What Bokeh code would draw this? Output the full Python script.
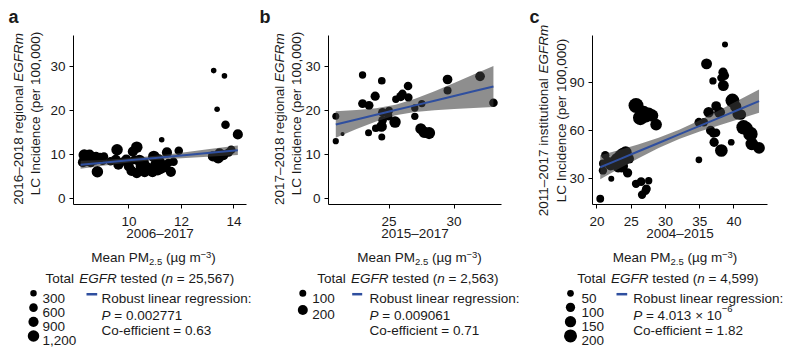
import math
from bokeh.plotting import figure
from bokeh.models import Range1d, FixedTicker
from bokeh.layouts import row, column
from bokeh.embed import file_html
from bokeh.resources import INLINE
from bokeh.core.properties import value

# ---------------- data ----------------
# panel a: regional, PM2.5 2006-2017
a_pm = [8.25, 8.30, 8.35, 8.45, 8.50, 8.55, 8.60, 8.70, 8.75, 8.80, 8.90, 9.00, 9.05,
        9.30, 9.50, 9.55, 9.60, 9.75, 9.90, 10.00, 10.10, 10.15, 10.20, 10.30, 10.30, 10.40, 10.45,
        10.60, 10.60, 10.70, 10.80, 10.90, 10.95, 11.00, 11.10, 11.15, 11.20, 11.20, 11.25, 11.35,
        11.45, 11.50, 11.60, 11.70, 11.90,
        13.20, 13.23, 13.36, 13.40, 13.45, 13.60, 13.64, 13.68, 13.80, 13.90, 14.15]
a_inc = [8.2, 9.8, 9.2, 8.6, 9.9, 8.0, 9.4, 8.9, 9.6, 6.0, 9.2, 8.5, 9.5,
         8.4, 8.7, 11.0, 7.6, 8.3, 8.8, 7.2, 6.2, 10.6, 8.7, 11.6, 5.7, 8.6, 7.3,
         5.9, 8.2, 7.0, 6.5, 5.9, 9.5, 7.6, 6.3, 9.0, 8.1, 6.6, 13.3, 7.0,
         10.4, 8.0, 6.0, 8.3, 10.8,
         9.5, 29.0, 20.2, 9.2, 10.2, 9.8, 27.8, 16.7, 10.4, 11.0, 14.5]
a_n = [900, 1200, 900, 1200, 900, 600, 900, 1200, 600, 1200, 900, 600, 600,
       600, 900, 1200, 900, 600, 900, 900, 900, 900, 600, 1200, 900, 1200, 900,
       900, 600, 900, 900, 900, 1200, 900, 900, 600, 900, 900, 200, 900,
       900, 600, 900, 600, 600,
       900, 200, 200, 1200, 900, 900, 200, 600, 600, 600, 900]
a_fit_x = [8.16, 9.0, 10.0, 11.0, 12.0, 13.0, 14.15]
a_fit_y = [7.59, 8.05, 8.61, 9.16, 9.71, 10.27, 10.90]
a_fit_lo = [6.69, 7.40, 8.11, 8.66, 9.06, 9.42, 9.80]
a_fit_hi = [8.49, 8.70, 9.11, 9.66, 10.36, 11.12, 12.00]
a_xticks = [10, 12, 14]
a_yticks = [0, 10, 20, 30]
a_legend = [300, 600, 900, 1200]
a_legend_lbl = ["300", "600", "900", "1,200"]

# panel b: regional, PM2.5 2015-2017
b_pm = [20.90, 20.90, 21.42, 22.96, 22.96, 23.46, 23.42, 23.93, 23.98, 24.44, 24.44, 24.50,
        24.42, 24.50, 25.00, 24.95, 25.46, 25.52, 25.90, 26.03, 26.46, 26.49, 26.98, 26.98,
        27.52, 27.44, 27.70, 28.08, 29.50, 29.50, 32.00, 33.03]
b_inc = [18.6, 12.96, 14.6, 28.0, 21.5, 21.1, 14.9, 23.2, 15.9, 26.7, 13.9, 19.5,
         16.3, 17.7, 19.9, 18.6, 17.3, 22.5, 23.1, 23.7, 25.5, 22.9, 20.5, 18.6,
         21.5, 15.8, 15.0, 14.8, 26.98, 24.5, 27.7, 21.7]
b_n = [100, 80, 35, 110, 160, 160, 100, 170, 120, 120, 100, 160,
       230, 150, 120, 130, 260, 110, 170, 150, 150, 140, 110, 110,
       110, 240, 260, 290, 190, 130, 190, 150]
b_fit_x = [20.90, 22.5, 24.0, 25.5, 27.0, 28.5, 30.0, 31.5, 33.03]
b_fit_y = [16.75, 17.89, 18.96, 20.03, 21.10, 22.17, 23.24, 24.31, 25.40]
b_fit_lo = [13.75, 15.73, 17.46, 18.83, 19.60, 20.01, 20.30, 20.53, 20.74]
b_fit_hi = [19.75, 20.05, 20.46, 21.23, 22.60, 24.33, 26.18, 28.09, 30.06]
b_xticks = [25, 30]
b_yticks = [0, 10, 20, 30]
b_legend = [100, 200]
b_legend_lbl = ["100", "200"]

# panel c: institutional, PM2.5 2004-2015
c_pm = [20.49, 20.88, 20.88, 21.22, 22.10, 21.60, 22.00, 22.50, 22.90, 23.20, 23.40, 23.60, 23.80,
        24.00, 24.20, 24.40, 24.70, 23.10, 22.70,
        24.48, 25.71, 26.45, 26.59, 27.22, 27.56, 27.10,
        25.71, 26.34, 26.83, 27.56, 28.06, 28.64, 27.20,
        38.69, 36.00, 36.93, 38.40, 38.64, 38.16, 38.45, 39.77, 40.25, 37.40, 36.30, 37.90, 40.60, 41.00,
        34.88, 35.61, 36.59, 36.99, 37.40, 41.40, 41.80, 42.40, 42.60, 43.66, 39.60, 37.10, 38.16, 34.88]
c_inc = [17.6, 35.2, 39.5, 44.7, 30.0, 40.5, 38.5, 41.0, 42.5, 40.0, 44.5, 38.0, 45.5,
         42.0, 46.5, 43.0, 42.5, 37.5, 39.5,
         33.7, 26.9, 28.3, 20.1, 23.8, 28.8, 22.5,
         75.5, 67.9, 71.3, 70.3, 69.3, 63.7, 68.5,
         113.4, 101.4, 90.8, 96.2, 94.1, 92.7, 87.9, 78.6, 74.9, 75.2, 71.3, 71.3, 70.3, 69.9,
         65.1, 65.1, 60.0, 58.3, 58.6, 62.0, 61.4, 57.9, 51.7, 49.2, 52.7, 52.7, 47.6, 41.8]
c_n = [70, 80, 70, 80, 40, 110, 130, 120, 150, 170, 150, 200, 180,
       160, 170, 140, 110, 150, 100,
       100, 80, 90, 80, 90, 60, 80,
       270, 260, 200, 190, 180, 160, 150,
       40, 140, 60, 100, 90, 80, 140, 230, 150, 110, 130, 140, 150, 130,
       90, 80, 100, 90, 80, 250, 200, 250, 190, 160, 50, 100, 190, 50]
c_fit_x = [20.49, 23.0, 26.0, 29.0, 32.0, 35.0, 38.0, 41.0, 43.66]
c_fit_y = [37.20, 41.64, 46.95, 52.26, 57.57, 62.88, 68.19, 73.50, 78.21]
c_fit_lo = [29.70, 35.74, 42.65, 49.06, 54.67, 59.38, 63.49, 67.50, 71.01]
c_fit_hi = [44.70, 47.54, 51.25, 55.46, 60.47, 66.38, 72.89, 79.50, 85.41]
c_xticks = [20, 25, 30, 35, 40]
c_yticks = [30, 60, 90]
c_legend = [50, 100, 150, 200]
c_legend_lbl = ["50", "100", "150", "200"]

# ---------------- style ----------------
FONT = "Liberation Sans"
TXT = "#1a1a1a"
BLUE = "#2f4f9f"
RIBBON = "#3c3c3c"
FSZ = 13.5
SUB = 9.5
TOP_H = 246
TOTAL_H = 356
BOT_H = TOTAL_H - TOP_H
FRAME_TOP, FRAME_BOT = 35, 204
BOT_SHIFT = -4.0

HW = {}
for chars, w in [("ijl", 222), (" ,.:Ift", 278), ("()-r", 333), ("cksvxyzJ", 500),
                 ("0123456789abdeghnopquµ–L", 556), ("=×−+", 584), ("FTZ", 611),
                 ("ABEKPSVXY", 667), ("CDHNRUw", 722), ("GOQ", 778), ("Mm", 833), ("W", 944)]:
    for ch in chars:
        HW[ch] = w


def tw(s, size):
    return sum(HW.get(ch, 556) for ch in s) * size / 1000.0


def size_a(n):
    return 1.5 + 0.2887 * math.sqrt(n)


def size_b(n):
    return -0.24 + 0.724 * math.sqrt(n)


def size_c(n):
    return 0.4 + 0.89 * math.sqrt(n)


def panel(left, w, frame_l, frame_r, xr, yr, xt, yt, xlab, xs, ys, ns, dfun, fx, fy, flo, fhi,
          letter, letter_x, ylines):
    p = figure(width=w, height=TOP_H, x_range=Range1d(*xr), y_range=Range1d(*yr),
               output_backend="svg", toolbar_location=None, title=None,
               min_border_left=frame_l - left, min_border_right=left + w - frame_r,
               min_border_top=FRAME_TOP, min_border_bottom=TOP_H - FRAME_BOT)
    p.outline_line_color = None
    p.xgrid.visible = False
    p.ygrid.visible = False
    p.scatter(x=xs, y=ys, size=[dfun(n) for n in ns], marker="circle",
              fill_color="black", line_color=None)
    p.varea(x=fx, y1=flo, y2=fhi, fill_color=RIBBON, fill_alpha=0.58)
    p.line(x=fx, y=fy, line_color=BLUE, line_width=2)
    for ax in (p.xaxis[0], p.yaxis[0]):
        ax.axis_line_color = "black"
        ax.axis_line_width = 1
        ax.major_tick_line_color = "black"
        ax.major_tick_out = 4
        ax.major_tick_in = 0
        ax.minor_tick_line_color = None
        ax.major_label_text_font = FONT
        ax.major_label_text_font_size = f"{FSZ}px"
        ax.major_label_text_color = TXT
    p.xaxis.ticker = FixedTicker(ticks=xt)
    p.yaxis.ticker = FixedTicker(ticks=yt)
    p.xaxis.axis_label = xlab
    p.xaxis.axis_label_text_font = FONT
    p.xaxis.axis_label_text_font_size = f"{FSZ}px"
    p.xaxis.axis_label_text_font_style = "normal"
    p.xaxis.axis_label_text_color = TXT
    p.xaxis.major_label_standoff = 8
    p.xaxis.axis_label_standoff = -3
    p.yaxis.major_label_standoff = 4

    # page pixel -> data coordinates of this panel (for texts placed in the margins)
    def to_data(px, py):
        x = xr[0] + (px - frame_l) / (frame_r - frame_l) * (xr[1] - xr[0])
        y = yr[0] + (FRAME_BOT - py) / (FRAME_BOT - FRAME_TOP) * (yr[1] - yr[0])
        return x, y

    def lab(px, py, text, size=FSZ, style="normal", align="left", baseline="alphabetic", angle=0.0):
        x, y = to_data(px, py)
        p.text(x=[x], y=[y], text=[text], angle=angle, text_font=value(FONT),
               text_font_size=f"{size}px", text_font_style=style, text_align=align,
               text_baseline=baseline, text_color=TXT, level="overlay")

    lab(letter_x, 16.5, letter, size=18, style="bold")
    for cx, cy, p1, p2 in ylines:
        if p2:
            tot = tw(p1 + " " + p2, FSZ)
            bottom = cy + tot / 2
            lab(cx, bottom, p1, align="left", baseline="middle", angle=math.pi / 2)
            lab(cx, bottom - tw(p1 + " ", FSZ), p2, style="italic", align="left",
                baseline="middle", angle=math.pi / 2)
        else:
            lab(cx, cy, p1, align="center", baseline="middle", angle=math.pi / 2)
    return p


pa = panel(0, 258, 73, 246, (7.89, 14.48), (-1.43, 36.98), a_xticks, a_yticks, "2006–2017",
           a_pm, a_inc, a_n, size_a, a_fit_x, a_fit_y, a_fit_lo, a_fit_hi,
           "a", 8, [(18.3, 118.3, "2016–2018 regional", "EGFRm"),
                    (35.0, 113.0, "LC Incidence (per 100,000)", None)])
pb = panel(258, 267, 328, 501, (20.34, 33.65), (-1.43, 36.98), b_xticks, b_yticks, "2015–2017",
           b_pm, b_inc, b_n, size_b, b_fit_x, b_fit_y, b_fit_lo, b_fit_hi,
           "b", 259, [(279.0, 118.7, "2017–2018 regional", "EGFRm"),
                      (296.0, 113.0, "LC Incidence (per 100,000)", None)])
pc = panel(525, 274, 592, 767, (19.36, 44.89), (14.05, 119.0), c_xticks, c_yticks, "2004–2015",
           c_pm, c_inc, c_n, size_c, c_fit_x, c_fit_y, c_fit_lo, c_fit_hi,
           "c", 529, [(543.3, 120.0, "2011–2017 institutional", "EGFRm"),
                      (560.7, 120.0, "LC Incidence (per 100,000)", None)])

# ---------------- bottom texts and legends ----------------
bot = figure(width=799, height=BOT_H, x_range=Range1d(0, 799), y_range=Range1d(0, BOT_H),
             output_backend="svg", toolbar_location=None, title=None, min_border=0,
             x_axis_type=None, y_axis_type=None)
bot.outline_line_color = None


def by(page_y):
    return TOTAL_H - (page_y + BOT_SHIFT)


def put(x, page_y, text, size=FSZ, style="normal", align="left"):
    bot.text(x=[x], y=[by(page_y)], text=[text],
             text_font=value(FONT), text_font_size=f"{size}px", text_font_style=style,
             text_align=align, text_baseline="alphabetic", text_color=TXT)


def rich(x0, base, pieces):
    x = x0
    for txt, style, size, dy in pieces:
        core = txt.strip()
        lead = txt[:len(txt) - len(txt.lstrip())]
        put(x + tw(lead, size), base + dy, core, size=size, style=style)
        x += tw(txt, size)


def mean_pm(x0):
    rich(x0, 261.0, [("Mean PM", "normal", FSZ, 0), ("2.5", "normal", SUB, 4.3),
                     (" (µg m", "normal", FSZ, 0), ("−3", "normal", SUB, -2.5),
                     (")", "normal", FSZ, 0)])


def total(x0, n_txt):
    rich(x0, 282.0, [("Total ", "normal", FSZ, 0), ("EGFR", "italic", FSZ, 0),
                     (" tested (", "normal", FSZ, 0), ("n", "italic", FSZ, 0),
                     (" = " + n_txt + ")", "normal", FSZ, 0)])


def size_legend(cx, tx, bases, vals, labels, dfun):
    bot.scatter(x=[cx] * len(vals), y=[by(b - 4.85) for b in bases],
                size=[dfun(v) for v in vals], marker="circle", fill_color="black", line_color=None)
    for b, labl in zip(bases, labels):
        put(tx, b, labl)


def reg_legend(dx0, dx1, tx, p_pieces, coef):
    bot.segment(x0=[dx0], y0=[by(297.7)], x1=[dx1], y1=[by(297.7)],
                line_color=BLUE, line_width=2.5)
    put(tx, 302.0, "Robust linear regression:")
    rich(tx, 318.5, p_pieces)
    put(tx, 334.3, "Co-efficient = " + coef)


# panel a
mean_pm(90.7)
total(45.0, "25,567")
size_legend(33.0, 42.0, [301.7, 316.0, 330.2, 344.4], a_legend, a_legend_lbl, size_a)
reg_legend(86.0, 96.7, 101.0, [("P", "italic", FSZ, 0), (" = 0.002771", "normal", FSZ, 0)], "0.63")
# panel b
mean_pm(356.7)
total(316.7, "2,563")
size_legend(302.3, 311.7, [301.7, 318.3], b_legend, b_legend_lbl, size_b)
reg_legend(351.7, 361.7, 369.0, [("P", "italic", FSZ, 0), (" = 0.009061", "normal", FSZ, 0)], "0.71")
# panel c
mean_pm(612.3)
total(576.7, "4,599")
size_legend(570.0, 581.0, [301.7, 315.7, 330.0, 344.3], c_legend, c_legend_lbl, size_c)
reg_legend(616.0, 626.7, 632.7, [("P", "italic", FSZ, 0), (" = 4.013 × 10", "normal", FSZ, 0),
                                 ("−6", "normal", SUB, -6.5)], "1.82")

layout = column(row(pa, pb, pc), bot)
open("out.html", "w").write(file_html(layout, INLINE))
